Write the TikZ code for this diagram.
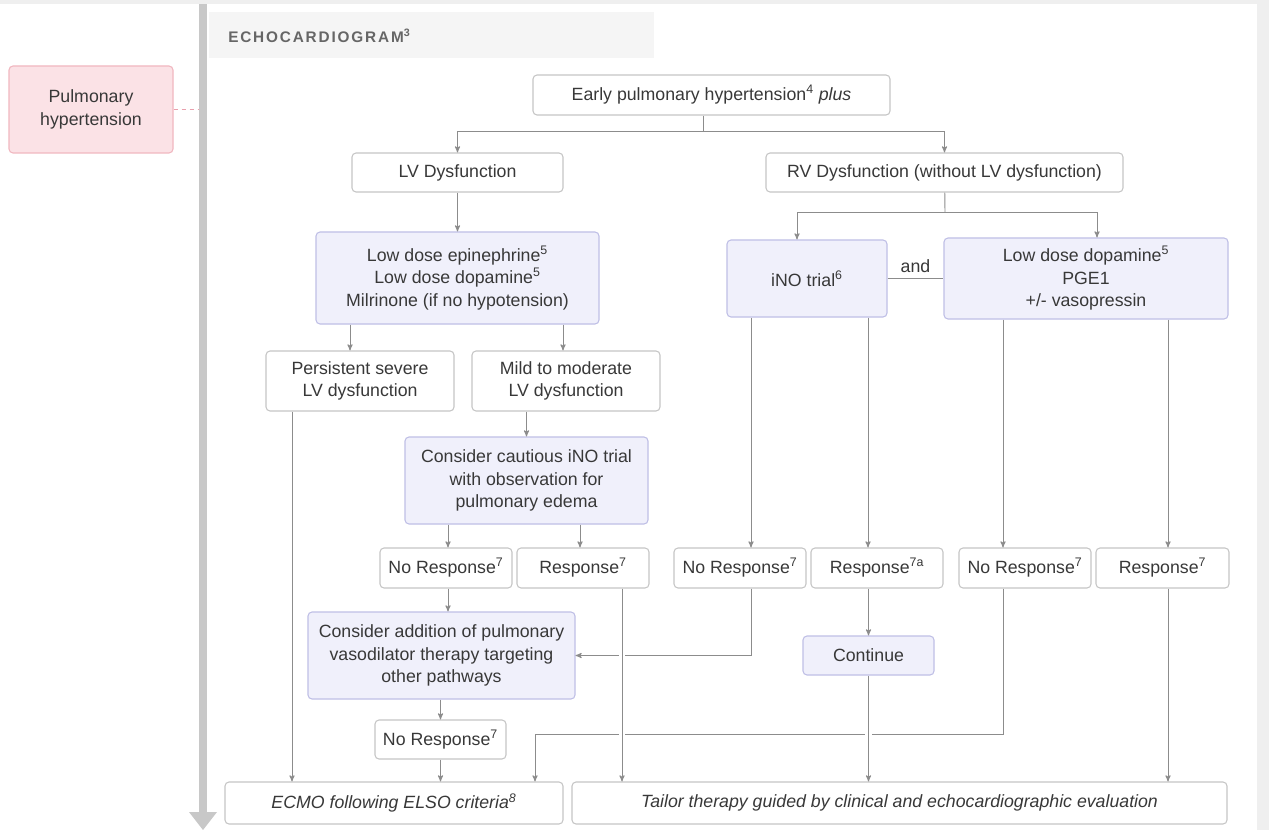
\documentclass[tikz,border=0pt]{standalone}
\usepackage{fontspec}
\setmainfont{Liberation Sans}
\newfontfamily\hodefont[LetterSpace=12]{Liberation Sans}
\usetikzlibrary{arrows,positioning}
\definecolor{bakgrunn}{HTML}{EFEFEF}
\definecolor{hodefyll}{HTML}{F5F5F5}
\definecolor{hodetekst}{HTML}{666666}
\definecolor{tekst}{HTML}{383838}
\definecolor{kant}{HTML}{C6C6C6}
\definecolor{linjefarge}{HTML}{8C8C8C}
\definecolor{drugfyll}{HTML}{F0F0FB}
\definecolor{drugkant}{HTML}{BFBFE6}
\definecolor{rosafyll}{HTML}{FBE2E6}
\definecolor{rosakant}{HTML}{F1B7C0}
\definecolor{rosastrek}{HTML}{E9A0AD}
\definecolor{stolpe}{HTML}{C8C8C8}
\newcommand\tekstfont{\fontsize{13.3}{16.9}\selectfont}
\tikzset{
    %Define standard arrow tip
    >=stealth',
    %Define size in pixels
    dims/.style 2 args={minimum width=#1*0.75pt, minimum height=#2*0.75pt},
    %Define style for boxes
    boks/.style={
           rectangle,
           rounded corners=3pt,
           draw=kant, line width=0.8pt,
           fill=white,
           text=tekst,
           inner sep=0pt,
           align=center,
           font=\tekstfont},
    drug/.style={
           boks,
           fill=drugfyll,
           draw=drugkant},
    % Define arrow style
    pil/.style={
           ->,
           draw=linjefarge,
           line width=0.7pt},
    linje/.style={
           draw=linjefarge,
           line width=0.7pt},
    bro/.style={
           preaction={-, draw=white, line width=5pt,
           shorten <=4pt, shorten >=8pt}}
}
\begin{document}
\begin{tikzpicture}[x=0.75pt, y=-0.75pt]
         \useasboundingbox (0,0) rectangle (1269,830);
         %background
         \fill[bakgrunn] (0,0) rectangle (1269,830);
         \fill[white] (0,4) rectangle (1257,830);
         \fill[hodefyll] (209,12) rectangle (654,58);
         \node[anchor=west, text=hodetekst, inner sep=0pt,
               font=\hodefont\fontsize{11.5}{13}\selectfont\bfseries]
               (hode) at (228,36) {ECHOCARDIOGRAM\textsuperscript{3}};
         %time bar
         \fill[stolpe] (198.5,4) rectangle (207,814);
         \fill[stolpe] (189,812) -- (217,812) -- (203,830) -- cycle;
         \node[boks, dims={164}{87}, fill=rosafyll, draw=rosakant]
               (ph) at (91,109.5) {Pulmonary\\hypertension};
         \draw[rosastrek, dashed, line width=0.7pt] (ph.east) -- (ph.east -| 198,0);
         %nodes
         \node[boks, dims={357}{40}] (early) at (711.5,95)
               {Early pulmonary hypertension\textsuperscript{4} \textit{plus}};
         \node[boks, dims={211}{39}] (lv) at (457.5,172.5) {LV Dysfunction};
         \node[boks, dims={357}{39}] (rv) at (944.5,172.5)
               {RV Dysfunction (without LV dysfunction)};
         \node[drug, dims={283}{92}] (epi) at (457.5,278)
               {Low dose epinephrine\textsuperscript{5}\\Low dose dopamine\textsuperscript{5}\\Milrinone (if no hypotension)};
         \node[drug, dims={160}{77}] (ino) at (807,278.5) {iNO trial\textsuperscript{6}};
         \node[drug, dims={284}{81}] (dop) at (1086,278.5)
               {Low dose dopamine\textsuperscript{5}\\PGE1\\+/- vasopressin};
         \node[boks, dims={188}{60}] (pers) at (360,381) {Persistent severe\\LV dysfunction};
         \node[boks, dims={188}{60}] (mild) at (566,381) {Mild to moderate\\LV dysfunction};
         \node[drug, dims={243}{87}] (cautious) at (526.5,480.5)
               {Consider cautious iNO trial\\with observation for\\pulmonary edema};
         \node[boks, dims={132}{40}] (nr1) at (446,568) {No Response\textsuperscript{7}};
         \node[boks, dims={132}{40}] (r1) at (583,568) {Response\textsuperscript{7}};
         \node[boks, dims={132}{40}] (nr2) at (740,568) {No Response\textsuperscript{7}};
         \node[boks, dims={132}{40}] (r2) at (877,568) {Response\textsuperscript{7a}};
         \node[boks, dims={132}{40}] (nr4) at (1025,568) {No Response\textsuperscript{7}};
         \node[boks, dims={133}{40}] (r4) at (1162.5,568) {Response\textsuperscript{7}};
         \node[drug, dims={267}{87}] (consider) at (441.5,655.5)
               {Consider addition of pulmonary\\vasodilator therapy targeting\\other pathways};
         \node[drug, dims={131}{39}] (cont) at (868.5,655.5) {Continue};
         \node[boks, dims={131}{39}] (nr3) at (440.5,739.5) {No Response\textsuperscript{7}};
         \node[boks, dims={338}{42}] (ecmo) at (394,803)
               {\textit{ECMO following ELSO criteria\textsuperscript{8}}};
         \node[boks, dims={655}{42}] (tailor) at (899.5,803)
               {\textit{Tailor therapy guided by clinical and echocardiographic evaluation}};
         %connectors
         \coordinate (gren1) at (703,131);
         \coordinate (gren2) at (945,212);
         \coordinate (knekk) at (535,734);
         \draw[linje] (early.south -| gren1) -- (gren1);
         \draw[pil] (gren1) -| (lv);
         \draw[pil] (gren1) -| (rv);
         \draw[pil] (lv) -- (epi);
         \draw[pil] (epi.south -| 350,0) -- (pers.north -| 350,0);
         \draw[pil] (epi.south -| 563,0) -- (mild.north -| 563,0);
         \draw[pil] (mild.south -| cautious) -- (cautious);
         \draw[pil] (cautious.south -| 448,0) -- (nr1.north -| 448,0);
         \draw[pil] (cautious.south -| 580,0) -- (r1.north -| 580,0);
         \draw[pil] (nr1.south -| 448,0) -- (consider.north -| 448,0);
         \draw[pil] (consider.south -| nr3) -- (nr3);
         \draw[pil] (nr3) -- (ecmo.north -| nr3);
         \draw[pil] (pers.south -| 292,0) -- (ecmo.north -| 292,0);
         \draw[linje] (rv) -- (gren2);
         \draw[pil] (gren2) -| (ino.north -| 797,0);
         \draw[pil] (gren2) -| (dop.north -| 1097,0);
         \draw[linje] (ino) -- node[above=1pt, text=tekst, font=\tekstfont] (og) {and} (dop);
         \draw[pil] (ino.south -| 751,0) -- (nr2.north -| 751,0);
         \draw[pil] (ino.south -| 868,0) -- (r2.north -| 868,0);
         \draw[pil] (dop.south -| 1003,0) -- (nr4.north -| 1003,0);
         \draw[pil] (dop.south -| 1168,0) -- (r4.north -| 1168,0);
         \draw[pil] (r2.south -| cont) -- (cont);
         \draw[pil] (nr2.south -| 751,0) |- (consider);
         \draw[pil] (nr4.south -| 1003,0) |- (knekk) -- (ecmo.north -| knekk);
         \draw[pil, bro] (r1.south -| 622,0) -- (tailor.north -| 622,0);
         \draw[pil, bro] (cont) -- (tailor.north -| cont);
         \draw[pil] (r4.south -| 1168,0) -- (tailor.north -| 1168,0);
\end{tikzpicture}
\end{document}
